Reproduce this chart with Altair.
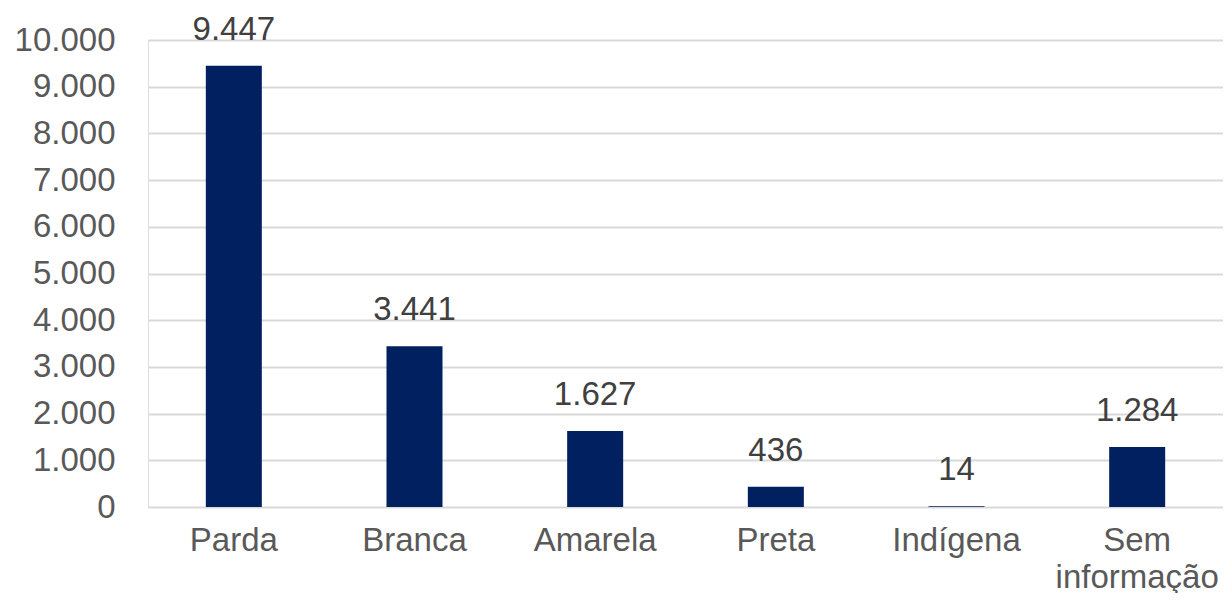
import altair as alt
import pandas as pd

categories = ["Parda", "Branca", "Amarela", "Preta", "Indígena", "Sem|informação"]
values = [9447, 3441, 1627, 436, 14, 1284]
value_labels = ["9.447", "3.441", "1.627", "436", "14", "1.284"]

df = pd.DataFrame({"cat": categories, "val": values, "lbl": value_labels})

FONT = "Liberation Sans"
FS = 33

x = alt.X(
    "cat:N",
    sort=categories,
    title=None,
    scale=alt.Scale(paddingInner=0.69, paddingOuter=0.32),
    axis=alt.Axis(
        labelAngle=0,
        labelExpr="split(datum.label, '|')",
        labelFont=FONT,
        labelFontSize=FS,
        labelColor="#595959",
        labelPadding=17,
        labelLineHeight=37,
        domain=False,
        ticks=False,
        grid=False,
    ),
)
y = alt.Y(
    "val:Q",
    title=None,
    scale=alt.Scale(domain=[0, 10000], nice=False),
    axis=alt.Axis(
        values=list(range(0, 10001, 1000)),
        labelExpr="replace(format(datum.value, ','), ',', '.')",
        labelFont=FONT,
        labelFontSize=FS,
        labelColor="#595959",
        labelPadding=33,
        domain=False,
        ticks=False,
        gridColor="#d9d9d9",
        gridWidth=2,
    ),
)

bars = alt.Chart(df).mark_bar(color="#002060").encode(x=x, y=y)
text = alt.Chart(df).mark_text(
    font=FONT, fontSize=FS, color="#404040", baseline="alphabetic", dy=-26
).encode(x=alt.X("cat:N", sort=categories), y="val:Q", text="lbl:N")

chart = (
    alt.layer(bars, text)
    .properties(
        width=1075,
        height=467,
        padding={"left": 140, "top": 32, "right": 0, "bottom": 86},
        autosize=alt.AutoSizeParams(type="none"),
    )
    .configure_view(stroke=None)
    .configure(background="white")
)

chart.save("out.html", embed_options={"renderer": "svg", "actions": False})
